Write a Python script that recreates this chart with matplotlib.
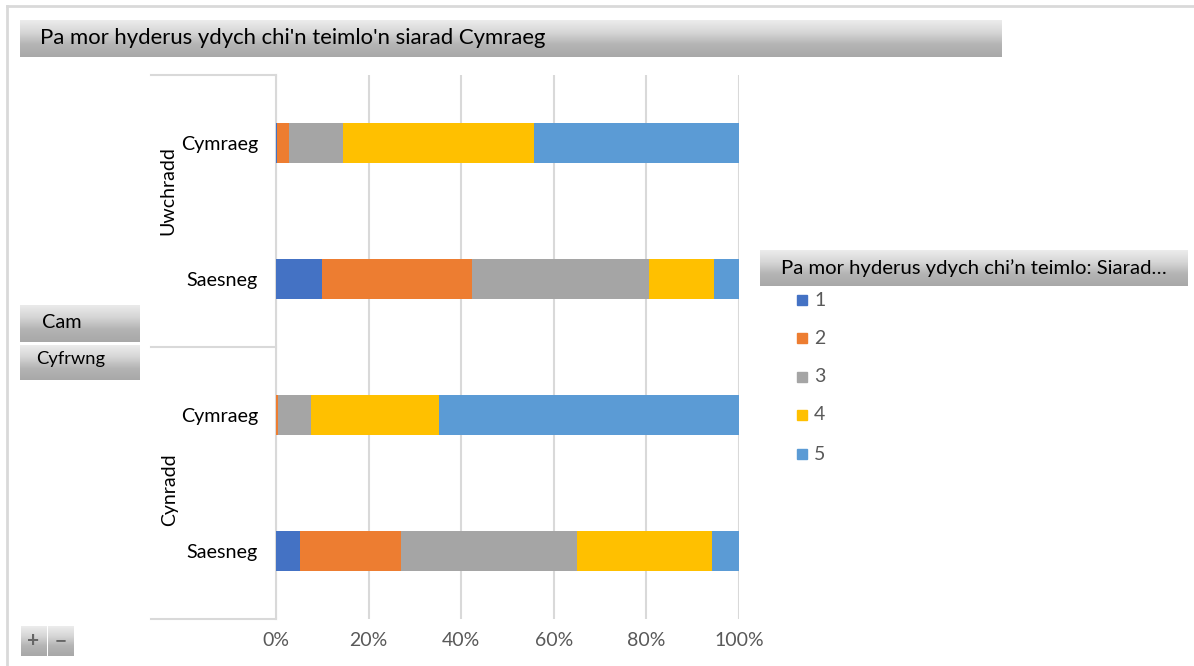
import numpy as np
import matplotlib
matplotlib.use('Agg')
from matplotlib import pyplot as plt
from matplotlib.colors import LinearSegmentedColormap
from matplotlib.lines import Line2D
from matplotlib.patches import Rectangle

# data (percent of respondents per confidence score)
groups = ['Uwchradd', 'Cynradd']
languages = ['Cymraeg', 'Saesneg', 'Cymraeg', 'Saesneg']
score_labels = ['1', '2', '3', '4', '5']
score_1 = [0.3, 9.9, 0.0, 5.2]
score_2 = [2.4, 32.5, 0.5, 21.9]
score_3 = [11.7, 38.1, 7.1, 37.9]
score_4 = [41.3, 14.0, 27.6, 29.1]
score_5 = [44.3, 5.5, 64.8, 5.9]
x_ticks = [0, 20, 40, 60, 80, 100]
x_tick_labels = ['0%', '20%', '40%', '60%', '80%', '100%']

colors = ['#4472C4', '#ED7D31', '#A5A5A5', '#FFC000', '#5B9BD5']
W, H = 1194, 666
plt.rcParams['font.family'] = ['Lato', 'DejaVu Sans']

fig = plt.figure(figsize=(W / 100, H / 100), dpi=100)
grad_cmap = LinearSegmentedColormap.from_list('btn', ['#ececec', '#d6d6d6', '#b4b4b4', '#a8a8a8'])
gradient = np.linspace(0, 1, 64).reshape(-1, 1)


def fx(x):
    return x / W


def fy(y):
    return 1 - y / H


def gradient_box(x0, y0, x1, y1):
    bax = fig.add_axes([fx(x0), fy(y1), (x1 - x0) / W, (y1 - y0) / H])
    bax.imshow(gradient, aspect='auto', cmap=grad_cmap, extent=[0, 1, 0, 1])
    bax.set_axis_off()
    return bax


def fig_line(x0, y0, x1, y1, color='#d9d9d9', lw=1.5):
    fig.add_artist(Line2D([fx(x0), fx(x1)], [fy(y0), fy(y1)], color=color, lw=lw,
                          transform=fig.transFigure))


# outer frame (top and left edges only)
fig_line(7, 6, 1194, 6, lw=2)
fig_line(7, 6, 7, 666, lw=2)

# title bar
gradient_box(20, 20, 1002, 57)
fig.text(fx(40), fy(38.5), "Pa mor hyderus ydych chi'n teimlo'n siarad Cymraeg",
         fontsize=15.9, va='center', ha='left', color='black')

# main plot
ax = fig.add_axes([fx(276), fy(619), (739 - 276) / W, (619 - 75) / H])
pos = np.arange(len(languages))
series = [score_1, score_2, score_3, score_4, score_5]
left = np.zeros(len(languages))
for vals, col, lab in zip(series, colors, score_labels):
    ax.barh(pos, vals, left=left, height=0.3, color=col, label=lab, zorder=3)
    left += np.array(vals)

ax.set_xlim(0, 100)
ax.set_ylim(3.5, -0.5)
ax.set_xticks(x_ticks)
ax.set_xticklabels(x_tick_labels, color='#595959', fontsize=14)
ax.set_yticks(pos)
ax.set_yticklabels(languages, fontsize=14.2, color='black')
ax.tick_params(axis='x', length=0, pad=9)
ax.tick_params(axis='y', length=0, pad=13)
ax.grid(axis='x', color='#d9d9d9', lw=1.5, zorder=0)
for side in ['top', 'right', 'bottom']:
    ax.spines[side].set_visible(False)
ax.spines['left'].set_color('#d9d9d9')
ax.spines['left'].set_linewidth(1.5)

# multi-level category axis
fig_line(151, 75, 276, 75)
fig_line(151, 347, 276, 347)
fig_line(151, 619, 276, 619)
fig.text(fx(168), fy(191), groups[0], rotation=90, fontsize=14, ha='center', va='center')
fig.text(fx(170), fy(490), groups[1], rotation=90, fontsize=14, ha='center', va='center')

# field buttons
gradient_box(20, 305, 140, 342)
fig.text(fx(42), fy(323), 'Cam', fontsize=14.3, va='center', ha='left')
gradient_box(20, 345, 140, 380)
fig.text(fx(36), fy(359), 'Cyfrwng', fontsize=13.2, va='center', ha='left')
gradient_box(21, 626, 46, 656)
gradient_box(48, 626, 74, 656)
fig.text(fx(33.5), fy(641), '+', fontsize=15, color='#666666', ha='center', va='center', fontweight='bold')
fig.text(fx(61), fy(641), '\u2212', fontsize=15, color='#666666', ha='center', va='center', fontweight='bold')

# legend
gradient_box(760, 250, 1188, 286)
fig.text(fx(781), fy(268), 'Pa mor hyderus ydych chi\u2019n teimlo: Siarad\u2026',
         fontsize=14.6, va='center', ha='left')
legend_y = [300, 338, 377, 415, 454]
for ly, col, lab in zip(legend_y, colors, score_labels):
    fig.add_artist(Rectangle((fx(797), fy(ly + 5)), 10 / W, 10 / H, color=col,
                             transform=fig.transFigure))
    fig.text(fx(814), fy(ly), lab, fontsize=14, color='#595959', va='center', ha='left')

fig.savefig('out.png', dpi=100)
